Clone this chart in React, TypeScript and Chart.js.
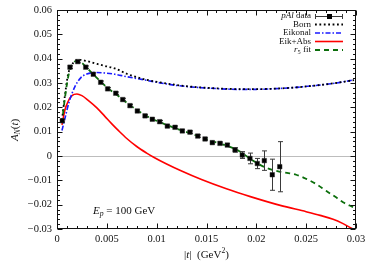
import React, { useEffect, useRef } from "react";
import { Chart, registerables } from "chart.js";
Chart.register(...registerables);

// ---------- data ----------
const dataT = [0.00053, 0.0013, 0.00208, 0.00288, 0.00364, 0.00438, 0.00508, 0.00589, 0.00659, 0.00732,
  0.00806, 0.00883, 0.00956, 0.0103, 0.01107, 0.01184, 0.01257, 0.01334, 0.01412, 0.01485,
  0.01558, 0.01635, 0.01709, 0.01786, 0.01859, 0.01936, 0.0201, 0.0208, 0.0216, 0.02235];
const dataAN = [0.0145, 0.0365, 0.0388, 0.0365, 0.0336, 0.0303, 0.0276, 0.0258, 0.0232, 0.0207,
  0.0185, 0.0165, 0.0151, 0.0141, 0.0123, 0.0118, 0.0103, 0.0098, 0.0082, 0.007,
  0.0055, 0.0052, 0.0045, 0.0025, 0.0004, -0.001, -0.0031, -0.0019, -0.0077, -0.0044];
const dataErr = [0.0005, 0.0005, 0.0005, 0.0005, 0.0005, 0.0005, 0.0005, 0.0005, 0.0005, 0.0005,
  0.0005, 0.0005, 0.0005, 0.0005, 0.0005, 0.0005, 0.0005, 0.0005, 0.0005, 0.0005,
  0.0005, 0.0005, 0.0006, 0.0009, 0.0014, 0.0022, 0.0021, 0.004, 0.0064, 0.0103];

const bornT = [0.0005, 0.0008, 0.0011, 0.0015, 0.0019, 0.0023, 0.003, 0.0038, 0.0048, 0.0058, 0.007,
  0.0085, 0.01, 0.012, 0.014, 0.016, 0.018, 0.02, 0.022, 0.024, 0.026, 0.028, 0.0298];
const bornAN = [0.0148, 0.025, 0.0333, 0.0375, 0.0392, 0.0395, 0.039, 0.0381, 0.037, 0.036, 0.0338,
  0.0318, 0.0305, 0.0292, 0.0283, 0.0278, 0.0275, 0.0275, 0.0277, 0.0282, 0.029, 0.03, 0.0312];

const eikT = [0.0005, 0.0008, 0.0012, 0.0018, 0.0024, 0.003, 0.0038, 0.0048, 0.0058, 0.007, 0.0085,
  0.01, 0.012, 0.014, 0.016, 0.018, 0.02, 0.022, 0.024, 0.026, 0.028, 0.0298];
const eikAN = [0.0105, 0.0155, 0.022, 0.0285, 0.0322, 0.0337, 0.0343, 0.0341, 0.0336, 0.0326, 0.0315,
  0.0303, 0.029, 0.0282, 0.0277, 0.0274, 0.0274, 0.0277, 0.0282, 0.029, 0.03, 0.0313];

const absT = [0.0005, 0.0008, 0.0011, 0.0015, 0.002, 0.0025, 0.0031, 0.004, 0.0048, 0.0055, 0.0062,
  0.007, 0.008, 0.009, 0.0097, 0.011, 0.0125, 0.0145, 0.017, 0.0194, 0.0224, 0.025, 0.0264,
  0.0277, 0.0287, 0.0297, 0.0302];
const absAN = [0.0128, 0.019, 0.0223, 0.0248, 0.0255, 0.0248, 0.023, 0.0198, 0.0163, 0.0132, 0.0103,
  0.0072, 0.0039, 0.0012, -0.0005, -0.0033, -0.0062, -0.0097, -0.0135, -0.0167, -0.0203, -0.0229, -0.0244,
  -0.026, -0.0278, -0.03, -0.0312];

const fitT = [0.0005, 0.0008, 0.0012, 0.0016, 0.002, 0.0025, 0.003, 0.0036, 0.0044, 0.0051, 0.0059,
  0.0066, 0.0073, 0.0081, 0.0088, 0.0096, 0.0103, 0.0111, 0.0118, 0.0126, 0.0133, 0.0141, 0.0149,
  0.0156, 0.0164, 0.0171, 0.0179, 0.0186, 0.0194, 0.0201, 0.0208, 0.0216, 0.0224, 0.0232, 0.024,
  0.025, 0.026, 0.027, 0.028, 0.0287, 0.0297];
const fitAN = [0.0135, 0.024, 0.034, 0.0382, 0.039, 0.0382, 0.0362, 0.0337, 0.0305, 0.0278, 0.0255,
  0.0232, 0.0209, 0.0187, 0.0168, 0.0152, 0.0139, 0.0126, 0.0115, 0.0104, 0.0094, 0.0083, 0.0071,
  0.006, 0.0051, 0.0041, 0.0029, 0.0012, -0.0012, -0.003, -0.0045, -0.0057, -0.0065, -0.007, -0.0077,
  -0.0094, -0.0115, -0.0143, -0.017, -0.019, -0.021];

const xTicks = [0, 0.005, 0.01, 0.015, 0.02, 0.025, 0.03];
const xTickLabels = ["0", "0.005", "0.01", "0.015", "0.02", "0.025", "0.03"];
const yTicks = [0.06, 0.05, 0.04, 0.03, 0.02, 0.01, 0, -0.01, -0.02, -0.03];
const yTickLabels = ["0.06", "0.05", "0.04", "0.03", "0.02", "0.01", "0", "\u22120.01", "\u22120.02", "\u22120.03"];

type Part = { t: string; it?: boolean; sub?: boolean; sup?: boolean };
const legendLabels: Part[][] = [
  [{ t: "pAl", it: true }, { t: " data" }],
  [{ t: "Born" }],
  [{ t: "Eikonal" }],
  [{ t: "Eik+Abs" }],
  [{ t: "r", it: true }, { t: "5", sub: true }, { t: " fit" }],
];
const yTitle: Part[] = [{ t: "A", it: true }, { t: "N", it: true, sub: true }, { t: "(" }, { t: "t", it: true }, { t: ")" }];
const xTitle: Part[] = [{ t: "|" }, { t: "t", it: true }, { t: "|  (GeV" }, { t: "2", sup: true }, { t: ")" }];
const annotation: Part[] = [{ t: "E", it: true }, { t: "p", it: true, sub: true }, { t: " = 100 GeV" }];

const FONT = "'Liberation Serif', 'DejaVu Serif', serif";

function partFont(p: Part, size: number) {
  const s = p.sub || p.sup ? size * 0.7 : size;
  return `${p.it ? "italic " : ""}${s}px ${FONT}`;
}
function drawRich(ctx: CanvasRenderingContext2D, parts: Part[], x: number, y: number, align: "left" | "right" | "center", size: number) {
  ctx.save();
  ctx.textBaseline = "middle";
  ctx.textAlign = "left";
  let w = 0;
  for (const p of parts) { ctx.font = partFont(p, size); w += ctx.measureText(p.t).width; }
  let cx = align === "left" ? x : align === "right" ? x - w : x - w / 2;
  for (const p of parts) {
    ctx.font = partFont(p, size);
    const dy = p.sub ? size * 0.3 : p.sup ? -size * 0.38 : 0;
    ctx.fillText(p.t, cx, y + dy);
    cx += ctx.measureText(p.t).width;
  }
  ctx.restore();
}

const decorPlugin = {
  id: "decor",
  beforeDatasetsDraw(chart: any) {
    const { ctx, chartArea: a, scales } = chart;
    const y0 = Math.round(scales.y.getPixelForValue(0)) + 0.5;
    ctx.save();
    ctx.strokeStyle = "#bdbdbd";
    ctx.lineWidth = 1;
    ctx.beginPath(); ctx.moveTo(a.left, y0); ctx.lineTo(a.right, y0); ctx.stroke();
    ctx.restore();
  },
  beforeDatasetDraw(chart: any, args: any) {
    if (args.index !== 0) return;
    const { ctx, chartArea: a, scales } = chart;
    ctx.save();
    ctx.beginPath(); ctx.rect(a.left, a.top, a.right - a.left, a.bottom - a.top); ctx.clip();
    ctx.strokeStyle = "#3a3a3a";
    ctx.lineWidth = 1;
    for (let i = 0; i < dataT.length; i++) {
      const px = Math.round(scales.x.getPixelForValue(dataT[i])) + 0.5;
      const top = scales.y.getPixelForValue(dataAN[i] + dataErr[i]);
      const bot = scales.y.getPixelForValue(dataAN[i] - dataErr[i]);
      ctx.beginPath();
      ctx.moveTo(px, top); ctx.lineTo(px, bot);
      ctx.moveTo(px - 2.5, top); ctx.lineTo(px + 2.5, top);
      ctx.moveTo(px - 2.5, bot); ctx.lineTo(px + 2.5, bot);
      ctx.stroke();
    }
    ctx.restore();
  },
  afterDraw(chart: any) {
    const { ctx, chartArea: a, scales } = chart;
    const L = Math.round(a.left) + 0.5, R = Math.round(a.right) - 0.5;
    const T = Math.round(a.top) + 0.5, B = Math.round(a.bottom) - 0.5;
    ctx.save();
    ctx.strokeStyle = "#111";
    ctx.lineWidth = 1;
    ctx.strokeRect(L, T, R - L, B - T);
    // ticks
    ctx.beginPath();
    for (let k = 0; k <= 30; k++) {
      const v = k * 0.001;
      const px = Math.round(scales.x.getPixelForValue(v)) + 0.5;
      const len = k % 5 === 0 ? 5 : 2.5;
      ctx.moveTo(px, B); ctx.lineTo(px, B - len);
      ctx.moveTo(px, T); ctx.lineTo(px, T + len);
    }
    for (let k = -15; k <= 30; k++) {
      const v = k * 0.002;
      const py = Math.round(scales.y.getPixelForValue(v)) + 0.5;
      const len = k % 5 === 0 ? 5 : 2.5;
      ctx.moveTo(L, py); ctx.lineTo(L + len, py);
      ctx.moveTo(R, py); ctx.lineTo(R - len, py);
    }
    ctx.stroke();
    ctx.fillStyle = "#111";
    ctx.font = `10.5px ${FONT}`;
    ctx.textBaseline = "middle";
    ctx.textAlign = "right";
    yTicks.forEach((v, i) => ctx.fillText(yTickLabels[i], 52, scales.y.getPixelForValue(v)));
    ctx.textAlign = "center";
    xTicks.forEach((v, i) => ctx.fillText(xTickLabels[i], scales.x.getPixelForValue(v), 239));
    ctx.restore();

    ctx.save();
    ctx.fillStyle = "#111";
    drawRich(ctx, xTitle, (a.left + a.right) / 2, 255, "center", 11);
    drawRich(ctx, annotation, 93, 211, "left", 11);
    ctx.translate(15, 130);
    ctx.rotate(-Math.PI / 2);
    drawRich(ctx, yTitle, 0, 0, "center", 11);
    ctx.restore();

    // legend
    const rows = [16, 24.5, 33, 41.5, 50];
    const sx0 = 315, sx1 = 343;
    ctx.save();
    ctx.fillStyle = "#111";
    legendLabels.forEach((parts, i) => drawRich(ctx, parts, 311, rows[i], "right", 9));
    const ds = chart.data.datasets;
    // data sample
    ctx.strokeStyle = "#3a3a3a"; ctx.lineWidth = 1;
    const r0 = Math.round(rows[0]) + 0.5;
    ctx.beginPath();
    ctx.moveTo(sx0, r0); ctx.lineTo(sx1, r0);
    ctx.moveTo(sx0 + 0.5, r0 - 2.5); ctx.lineTo(sx0 + 0.5, r0 + 2.5);
    ctx.moveTo(sx1 - 0.5, r0 - 2.5); ctx.lineTo(sx1 - 0.5, r0 + 2.5);
    ctx.stroke();
    ctx.fillStyle = "#000";
    ctx.fillRect((sx0 + sx1) / 2 - 2, r0 - 2.5, 5, 5);
    // line samples: Born(ds2), Eikonal(ds3), Eik+Abs(ds4), fit(ds1)
    const order = [2, 3, 4, 1];
    order.forEach((di, j) => {
      const d = ds[di];
      const yy = rows[j + 1];
      ctx.strokeStyle = d.borderColor;
      ctx.lineWidth = d.borderWidth;
      ctx.setLineDash(d.borderDash || []);
      ctx.beginPath(); ctx.moveTo(sx0, yy); ctx.lineTo(sx1, yy); ctx.stroke();
    });
    ctx.restore();
  },
};

function xy(xs: number[], ys: number[]) {
  return xs.map((x, i) => ({ x, y: ys[i] }));
}

export default function App() {
  const ref = useRef<HTMLCanvasElement>(null);
  useEffect(() => {
    document.body.style.margin = "0";
    const chart = new Chart(ref.current!, {
      type: "scatter",
      data: {
        datasets: [
          {
            label: "pAl data",
            data: xy(dataT, dataAN),
            pointStyle: "rect",
            pointRadius: 3.2,
            backgroundColor: "#000",
            borderColor: "#333",
            borderWidth: 0.5,
            showLine: false,
          },
          {
            label: "r5 fit",
            data: xy(fitT, fitAN),
            showLine: true,
            pointRadius: 0,
            borderColor: "#0b6e0b",
            borderWidth: 1.8,
            borderDash: [5, 4],
            cubicInterpolationMode: "monotone",
          },
          {
            label: "Born",
            data: xy(bornT, bornAN),
            showLine: true,
            pointRadius: 0,
            borderColor: "#000",
            borderWidth: 1.8,
            borderDash: [1.8, 2.6],
            cubicInterpolationMode: "monotone",
          },
          {
            label: "Eikonal",
            data: xy(eikT, eikAN),
            showLine: true,
            pointRadius: 0,
            borderColor: "#1a1aff",
            borderWidth: 1.6,
            borderDash: [5, 2, 1.5, 2],
            cubicInterpolationMode: "monotone",
          },
          {
            label: "Eik+Abs",
            data: xy(absT, absAN),
            showLine: true,
            pointRadius: 0,
            borderColor: "#ff0000",
            borderWidth: 1.6,
            cubicInterpolationMode: "monotone",
          },
        ] as any,
      },
      options: {
        animation: false,
        responsive: false,
        layout: { padding: { left: 57, right: 19, top: 10, bottom: 34 } },
        plugins: { legend: { display: false }, tooltip: { enabled: false } },
        scales: {
          x: { type: "linear", min: 0, max: 0.03, display: false },
          y: { type: "linear", min: -0.03, max: 0.06, display: false },
        },
      },
      plugins: [decorPlugin as any],
    });
    return () => chart.destroy();
  }, []);
  return (
    <div style={{ position: "absolute", left: 0, top: 0, width: 375, height: 263, background: "#fff" }}>
      <canvas ref={ref} width={375} height={263} />
    </div>
  );
}
